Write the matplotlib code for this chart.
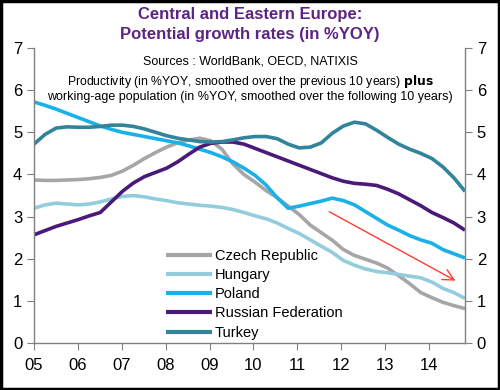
import numpy as np
import matplotlib
matplotlib.use("Agg")
import matplotlib.pyplot as plt
from matplotlib.patches import Rectangle

plt.rcParams['font.family'] = ['Liberation Sans', 'DejaVu Sans']

# quarter-ish sample points, 2005 .. end of 2014
years = np.linspace(2005, 2014.82, 40)

czech = [3.87, 3.86, 3.86, 3.87, 3.88, 3.90, 3.93, 3.98, 4.08, 4.22,
         4.38, 4.52, 4.65, 4.75, 4.82, 4.86, 4.80, 4.60, 4.25, 4.00,
         3.82, 3.62, 3.45, 3.25, 3.05, 2.80, 2.62, 2.44, 2.22, 2.08,
         1.99, 1.90, 1.78, 1.60, 1.41, 1.20, 1.08, 0.97, 0.89, 0.82]
hungary = [3.20, 3.28, 3.32, 3.30, 3.28, 3.30, 3.35, 3.42, 3.48, 3.50,
           3.47, 3.42, 3.38, 3.33, 3.30, 3.27, 3.25, 3.22, 3.17, 3.10,
           3.02, 2.95, 2.85, 2.72, 2.60, 2.45, 2.30, 2.15, 1.96, 1.85,
           1.76, 1.70, 1.67, 1.63, 1.59, 1.55, 1.45, 1.30, 1.20, 1.06]
poland = [5.72, 5.64, 5.55, 5.45, 5.35, 5.25, 5.15, 5.07, 5.00, 4.95,
          4.90, 4.85, 4.80, 4.75, 4.68, 4.60, 4.52, 4.42, 4.30, 4.15,
          3.98, 3.75, 3.45, 3.20, 3.25, 3.31, 3.37, 3.44, 3.38, 3.28,
          3.12, 2.96, 2.80, 2.68, 2.55, 2.45, 2.37, 2.22, 2.12, 2.02]
russia = [2.57, 2.67, 2.77, 2.85, 2.93, 3.02, 3.10, 3.35, 3.60, 3.80,
          3.95, 4.05, 4.15, 4.30, 4.48, 4.65, 4.74, 4.77, 4.77, 4.72,
          4.62, 4.52, 4.42, 4.32, 4.22, 4.12, 4.02, 3.92, 3.84, 3.79,
          3.77, 3.74, 3.65, 3.54, 3.40, 3.26, 3.10, 2.98, 2.85, 2.68]
turkey = [4.72, 4.95, 5.10, 5.13, 5.12, 5.12, 5.14, 5.17, 5.17, 5.14,
          5.08, 5.00, 4.92, 4.86, 4.82, 4.78, 4.77, 4.78, 4.82, 4.87,
          4.90, 4.90, 4.85, 4.72, 4.63, 4.65, 4.75, 4.98, 5.15, 5.24,
          5.20, 5.05, 4.88, 4.72, 4.60, 4.50, 4.38, 4.18, 3.92, 3.60]

names = ['Czech Republic', 'Hungary', 'Poland', 'Russian Federation', 'Turkey']
colors = ['#a6a6a6', '#93cddd', '#1ab0e8', '#4b1a78', '#31849b']
tick_years = list(range(2005, 2015))
tick_labels = ['05', '06', '07', '08', '09', '10', '11', '12', '13', '14']

# trend arrow (start, end) in data units
arrow_start = (2011.67, 3.15)
arrow_end = (2014.66, 1.45)

fig = plt.figure(figsize=(5, 3.9), dpi=100)
ax = fig.add_axes([0.068, 0.12, 0.862, 0.757])

for series, name, c in zip([czech, hungary, poland, russia, turkey], names, colors):
    ax.plot(years, series, color=c, lw=2.6, label=name, solid_capstyle='butt')

ax.annotate('', xy=arrow_end, xytext=arrow_start,
            arrowprops=dict(arrowstyle='->', color='#ff3b30', lw=1.0,
                            mutation_scale=20))

ax.set_xlim(2005, 2014.82)
ax.set_ylim(0, 7)
ax.set_xticks(tick_years)
ax.set_xticklabels(tick_labels)
ax.set_yticks(range(0, 8))
ax.tick_params(axis='both', labelsize=12, length=5, color='#808080', direction='out')
ax.tick_params(axis='y', which='both', left=True, right=True, labelleft=True, labelright=True)
ax.tick_params(axis='x', pad=6)
ax.spines['top'].set_visible(False)
for s in ['left', 'right', 'bottom']:
    ax.spines[s].set_color('#808080')
    ax.spines[s].set_linewidth(1.0)

leg = ax.legend(loc='upper left', bbox_to_anchor=(0.292, 0.34), frameon=False,
                fontsize=10.5, handlelength=3.2, handletextpad=0.15,
                labelspacing=0.36, borderaxespad=0)
for line in leg.get_lines():
    line.set_linewidth(3)

fig.text(0.5, 0.962, 'Central and Eastern Europe:', ha='center', va='center',
         fontsize=12, fontweight='bold', color='#5c2483')
fig.text(0.5, 0.912, 'Potential growth rates (in %YOY)', ha='center', va='center',
         fontsize=12, fontweight='bold', color='#5c2483')
fig.text(0.5, 0.843, 'Sources : WorldBank, OECD, NATIXIS', ha='center', va='center',
         fontsize=9)
fig.text(0.5, 0.79, 'Productivity (in %YOY, smoothed over the previous 10 years) $\\bf{plus}$',
         ha='center', va='center', fontsize=8.8)
fig.text(0.5, 0.752, 'working-age population (in %YOY, smoothed over the following 10 years)',
         ha='center', va='center', fontsize=9)

fig.add_artist(Rectangle((0.002, 0.002), 0.996, 0.996, transform=fig.transFigure,
                         fill=False, edgecolor='black', lw=2.5))

fig.savefig('out.png', dpi=100)
